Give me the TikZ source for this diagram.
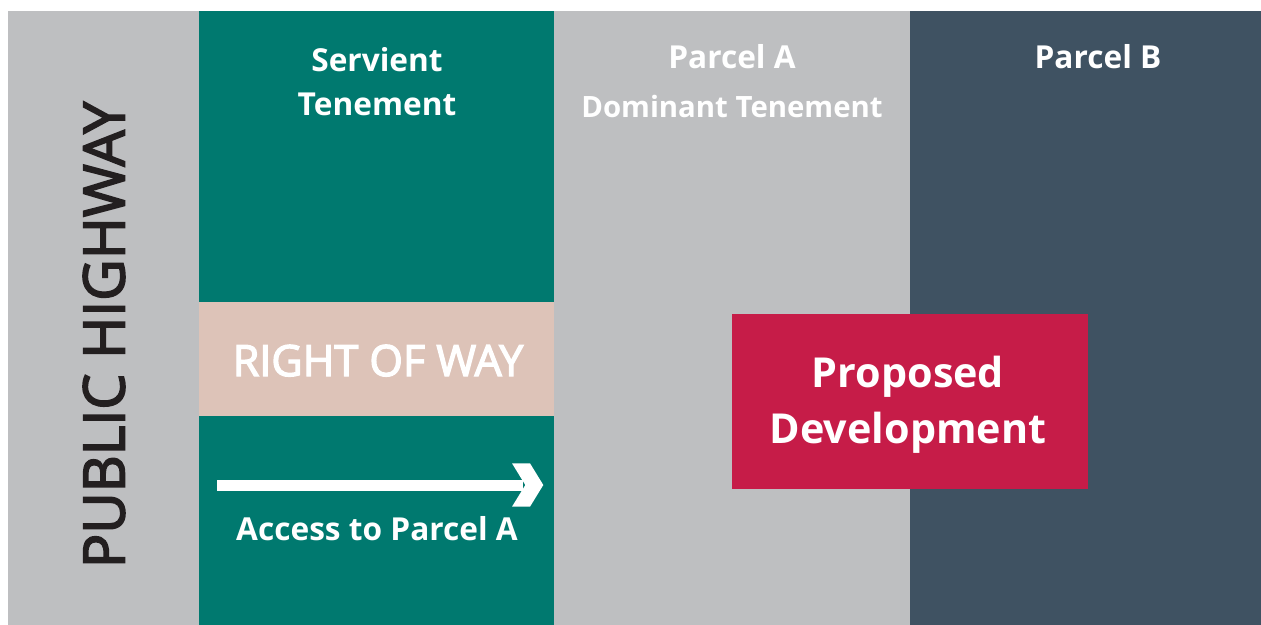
\documentclass[tikz,border=0pt]{standalone}
\usepackage{fontspec}
\setmainfont{Open Sans}
\newfontfamily\medfont[FakeBold=3]{Open Sans}
\usetikzlibrary{positioning}

\definecolor{roadgray}{HTML}{BEBFC1}
\definecolor{servteal}{HTML}{00796F}
\definecolor{parcelslate}{HTML}{3F5262}
\definecolor{waypink}{HTML}{DDC3B8}
\definecolor{devred}{HTML}{C61C48}
\definecolor{inkdark}{HTML}{231F20}

\tikzset{
  label/.style={text=white, font=\bfseries\fontsize{18}{25}\selectfont, align=center, inner sep=0pt},
  biglabel/.style={text=white, font=\bfseries\fontsize{23.5}{32}\selectfont, align=center, inner sep=0pt}
}

\begin{document}
\begin{tikzpicture}[x=0.02cm, y=-0.02cm]
				\useasboundingbox (0,0) rectangle (1261,625);
				\fill[white] (0,0) rectangle (1261,625);
				% strips, left to right
				\fill[roadgray] (8,11) rectangle (199,625);
				\fill[servteal] (199,11) rectangle (554,625);
				\fill[roadgray] (554,11) rectangle (910,625);
				\fill[parcelslate] (910,11) rectangle (1261,625);
				\fill[waypink] (199,302) rectangle (554,416);
				\fill[devred] (732,314) rectangle (1088,489);
				% labels
				\node[text=inkdark, font=\medfont\fontsize{32.5}{32}\selectfont, rotate=90, inner sep=0pt] (highway) at (104,335) {PUBLIC HIGHWAY};
				\node[label] (servient) at (377,82) {Servient\\Tenement};
				\node[label, anchor=base] (parcelA) at (732,69) {Parcel A};
				\node[label, anchor=base, font=\bfseries\fontsize{16.7}{20}\selectfont] (dominant) at (732,117) {Dominant Tenement};
				\node[label, anchor=base] (parcelB) at (1098,69) {Parcel B};
				\node[text=white, font=\medfont\fontsize{24.5}{24}\selectfont, anchor=base, inner sep=0pt] (way) at (378,376) {RIGHT OF WAY};
				\node[biglabel] (proposed) at (908,405) {Proposed\\Development};
				\node[label, anchor=base] (accesstext) at (377,540) {Access to Parcel A};
				% access arrow
				\coordinate (accL) at (217,485);
				\coordinate (accR) at (523,485);
				\draw[white, line width=0.22cm] (accL) -- (accR);
				\fill[white] (accR) ++(-11,-21.7) -- ++(18,0) -- ++(13.3,21.7) -- ++(-13.3,21.7) -- ++(-18,0) -- ++(13.3,-21.7) -- cycle;
			\end{tikzpicture}
\end{document}
